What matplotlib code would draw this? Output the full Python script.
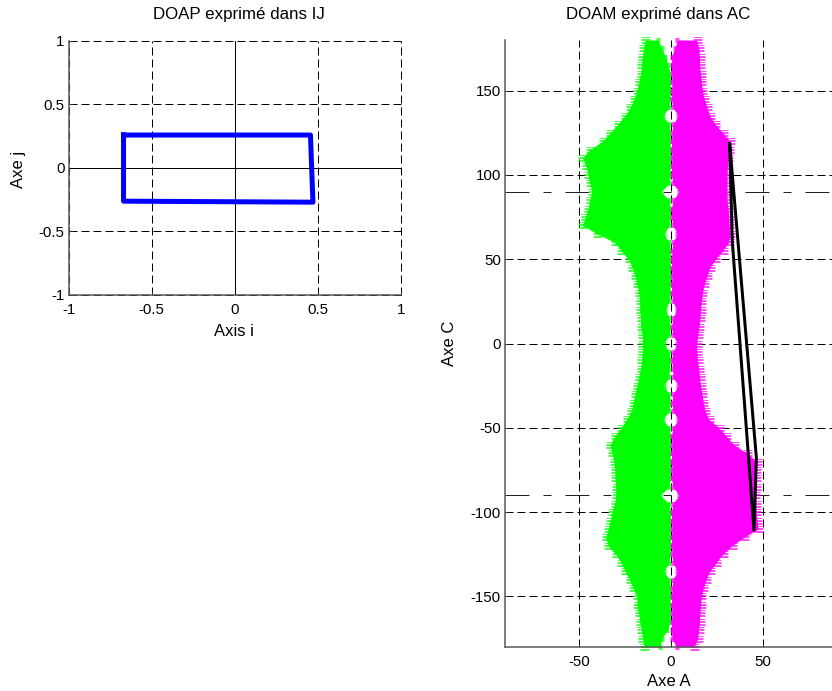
import matplotlib
matplotlib.use("Agg")
import matplotlib.pyplot as plt
from matplotlib.path import Path

plt.rcParams['font.family'] = ['Liberation Sans', 'DejaVu Sans']

# DOAP polygon (axis i, axis j)
doap_i = [-0.67, 0.455, 0.47, -0.67, -0.67]
doap_j = [0.258, 0.258, -0.27, -0.262, 0.258]

# DOAM envelopes, one value every 5 deg from C=180 down to C=-180
axe_c = [180, 175, 170, 165, 160, 155, 150, 145, 140, 135, 130, 125, 120, 115, 110, 105, 100, 95, 90, 85, 80, 75, 70, 65,
         60, 55, 50, 45, 40, 35, 30, 25, 20, 15, 10, 5, 0,
         -5, -10, -15, -20, -25, -30, -35, -40, -45, -50, -55, -60, -65, -70, -75, -80, -85,
         -90, -95, -100, -105, -110, -115, -120, -125, -130, -135, -140, -145, -150, -155, -160, -165, -170, -175, -180]
green_outer = [-14, -15, -15.5, -16, -16.5, -17.5, -18.5, -20, -22, -25, -28.8, -33, -37, -44, -48, -46, -45, -44, -43, -44, -45, -46.5, -48, -40,
               -30.5, -27, -23, -21, -19.5, -18.5, -17.5, -17, -17, -16.5, -16.5, -15.5, -15.5,
               -15.5, -16, -16.5, -17.5, -18.5, -19.5, -20.5, -21.5, -24, -27, -30.5, -33, -32, -31, -30.5, -30.3, -30,
               -30, -30.5, -32, -33, -34, -35.5, -34, -30, -27, -25, -22.5, -20.5, -18.5, -18.5, -17.5, -17, -16, -15.5, -14.5]
green_inner = [-7, -5, -3, -1.5, -0.5, -0.3, -0.3, -0.5, -1, -4.5, -1, -0.3, -0.5, -0.3, -0.3, -0.5, -0.3, -1, -5.5, -1, -0.3, -0.3, -1, -4,
               -1, -0.3, -0.5, -0.3, -0.3, -0.5, -0.3, -1, -3, -1, -0.3, -1, -4,
               -1, -0.3, -1, -1, -4, -1, -0.3, -1, -4.5, -1, -0.3, -0.3, -0.5, -0.3, -0.3, -0.5, -1,
               -6, -1, -0.3, -0.3, -0.5, -0.3, -0.3, -0.5, -1, -4, -1, -0.3, -0.3, -0.5, -0.3, -0.5, -2, -5, -6]
magenta_outer = [14, 15, 15.5, 15.5, 16, 16.5, 17, 18, 19.5, 21, 24, 28, 32, 31.5, 31, 30.6, 30.4, 30.4, 30.4, 30.4, 31, 31.3, 31.6, 32,
                 31.3, 28, 24, 21, 19.5, 18, 17, 16.5, 16, 15.7, 15.2, 14.5, 14,
                 14, 14.5, 15, 15.5, 16, 16.8, 17.5, 18.5, 20.5, 26, 30, 34, 41, 46.5, 46, 46, 46,
                 45.8, 46, 46.2, 46.7, 47.3, 39.5, 33, 28, 24.5, 21, 19, 17.5, 16.5, 16, 15.7, 15.5, 15, 14.5, 12.5]
magenta_inner = [3.5, 2, 0.3, 0.3, 0.3, 0.5, 0.3, 0.3, 1, 4, 1, 0.5, 0.3, 0.3, 0.5, 0.3, 0.3, 1, 4.5, 1, 0.3, 0.3, 1, 3.5,
                 1, 0.5, 0.3, 0.3, 0.5, 0.3, 0.3, 1, 3, 1, 0.3, 1, 3.5,
                 1, 0.3, 1, 1, 4, 1, 0.5, 1, 4, 1, 0.3, 0.5, 0.3, 0.3, 0.5, 0.3, 1,
                 4.5, 1, 0.3, 0.3, 0.5, 0.3, 0.3, 0.5, 1, 3.5, 1, 0.5, 0.3, 0.3, 0.5, 0.3, 0.3, 0.5, 3]

# black contour (axe A, axe C)
contour_a = [31.8, 46.3, 45, 33.2, 31.8]
contour_c = [118.5, -68, -110.7, 61, 118.5]

ticks_i = [-1, -0.5, 0, 0.5, 1]
labels_i = ['-1', '-0.5', '0', '0.5', '1']
ticks_a = [-50, 0, 50]
labels_a = ['-50', '0', '50']
ticks_c = [-150, -100, -50, 0, 50, 100, 150]
labels_c = ['-150', '-100', '-50', '0', '50', '100', '150']
limites_c = [-90, 90]

W, H = 832, 691
PX = 72 / 100
fig = plt.figure(figsize=(W / 100, H / 100), dpi=100)

# comb of short horizontal strokes, gives the spiky edge of the star cloud
comb_verts = []
comb_codes = []
for dy in [-4, -2, 0, 2, 4]:
    comb_verts += [(-6, dy), (6, dy)]
    comb_codes += [Path.MOVETO, Path.LINETO]
comb = Path(comb_verts, comb_codes)


def axes_px(x0, y0, x1, y1):
    return fig.add_axes([x0 / W, 1 - y1 / H, (x1 - x0) / W, (y1 - y0) / H])


def label_px(x, y, s, size=12, **kw):
    fig.text(x / W, 1 - y / H, s, ha='center', va='center', fontsize=size, **kw)


def style(ax):
    ax.spines['top'].set_visible(False)
    ax.spines['right'].set_visible(False)
    for side in ['left', 'bottom']:
        ax.spines[side].set_linewidth(1.5 * PX)
        ax.spines[side].set_color('#555555')
    ax.tick_params(direction='in', length=3, width=0.6, labelsize=10.8, color='#303030')
    ax.tick_params(axis='x', pad=5.5)
    ax.tick_params(axis='y', pad=3)
    ax.grid(True, color='black', linewidth=PX, linestyle=(0, (8, 4)))
    ax.set_axisbelow(True)


def nuage(ax, outer, inner, colour, z):
    ax.fill_betweenx(axe_c, outer, inner, color=colour, lw=0, zorder=z)
    ax.plot(outer, axe_c, ls='none', marker=comb, ms=9 * PX, mew=PX, mfc='none', mec=colour, alpha=0.7,
            clip_on=False, zorder=z + 0.1)
    ax.plot(inner, axe_c, ls='none', marker=comb, ms=5 * PX, mew=PX, mfc='none', mec=colour, alpha=0.7,
            clip_on=False, zorder=z + 0.1)


# panel IJ
ax1 = axes_px(68.7, 40.7, 401, 295)
style(ax1)
ax1.set_xlim(-1, 1)
ax1.set_ylim(-1, 1)
ax1.set_xticks(ticks_i, labels_i)
ax1.set_yticks(ticks_i, labels_i)
for line in ax1.get_xgridlines() + ax1.get_ygridlines():
    line.set_clip_on(False)
ax1.axhline(0, color='black', lw=PX, zorder=1.5)
ax1.axvline(0, color='black', lw=PX, zorder=1.5)
ax1.plot(doap_i, doap_j, color='#0000ff', lw=5 * PX, solid_joinstyle='round', zorder=3)

# panel AC, cut by the right edge of the picture as in the original
ax2 = axes_px(505, 40, 837, 647)
style(ax2)
ax2.set_xlim(-90, 90)
ax2.set_ylim(-180, 180)
ax2.set_xticks(ticks_a, labels_a)
ax2.set_yticks(ticks_c, labels_c)
for lim in limites_c:
    ax2.axhline(lim, color='#202020', lw=PX, linestyle=(0, (24, 14, 8, 14)), zorder=1.5)
nuage(ax2, green_outer, green_inner, '#00ff00', 2)
nuage(ax2, magenta_outer, magenta_inner, '#ff00ff', 2.2)
ax2.plot(contour_a, contour_c, color='black', lw=3 * PX, zorder=3)

label_px(239, 15, 'DOAP exprimé dans IJ', size=12.2)
label_px(658, 15, 'DOAM exprimé dans AC', size=12.2)
label_px(234, 331, 'Axis i')
label_px(669, 682, 'Axe A')
label_px(18, 169, 'Axe j', rotation=90)
label_px(450, 343, 'Axe C', rotation=90)

fig.savefig('out.png', dpi=100)
